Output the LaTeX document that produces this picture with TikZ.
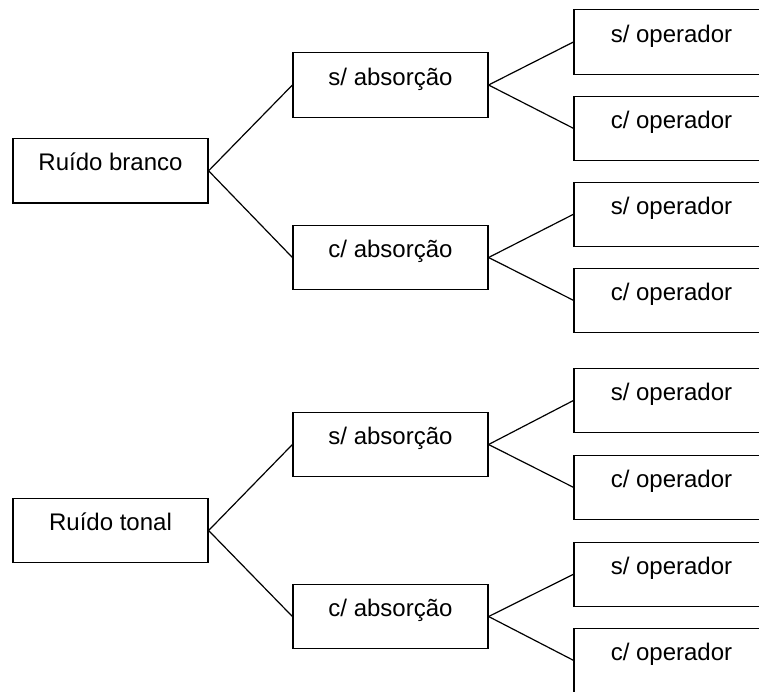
\documentclass[tikz,border=0pt]{standalone}
\usepackage{fontspec}
\setmainfont{Liberation Sans}
\usetikzlibrary{positioning}

\begin{document}
\begin{tikzpicture}[x=0.5pt, y=-0.5pt, line width=0.6pt,
		box/.style={draw, rectangle, inner sep=0pt, minimum width=97.5pt, text height=16.1pt, text depth=16.1pt, font=\fontsize{12}{14}\selectfont}]
			\useasboundingbox (0, 0) rectangle (759, 691);
			\clip (0, 0) rectangle (759, 691);
			
			% ruido branco
			\node [box] (Bnoise) at (110.5, 170.8) {Ruído branco};
			\node [box] (BSabs) at (390.5, 85) {s/ absorção};
			\node [box] (BCabs) at (390.5, 257.5) {c/ absorção};
			\node [box] (BSabsSop) at (671.5, 42) {s/ operador};
			\node [box] (BSabsCop) at (671.5, 128.3) {c/ operador};
			\node [box] (BCabsSop) at (671.5, 214.3) {s/ operador};
			\node [box] (BCabsCop) at (671.5, 300.3) {c/ operador};
			
			\draw[-] (Bnoise.east) -- (BSabs.west);
			\draw[-] (Bnoise.east) -- (BCabs.west);
			\draw[-] (BSabs.east) -- (BSabsSop.west);
			\draw[-] (BSabs.east) -- (BSabsCop.west);
			\draw[-] (BCabs.east) -- (BCabsSop.west);
			\draw[-] (BCabs.east) -- (BCabsCop.west);
			
			% ruido tonal
			\node [box] (Tnoise) at (110.5, 530.5) {Ruído tonal};
			\node [box] (TSabs) at (390.5, 444.5) {s/ absorção};
			\node [box] (TCabs) at (390.5, 616.5) {c/ absorção};
			\node [box] (TSabsSop) at (671.5, 400.5) {s/ operador};
			\node [box] (TSabsCop) at (671.5, 487.3) {c/ operador};
			\node [box] (TCabsSop) at (671.5, 574.3) {s/ operador};
			\node [box] (TCabsCop) at (671.5, 660.3) {c/ operador};
			
			\draw[-] (Tnoise.east) -- (TSabs.west);
			\draw[-] (Tnoise.east) -- (TCabs.west);
			\draw[-] (TSabs.east) -- (TSabsSop.west);
			\draw[-] (TSabs.east) -- (TSabsCop.west);
			\draw[-] (TCabs.east) -- (TCabsSop.west);
			\draw[-] (TCabs.east) -- (TCabsCop.west);
		\end{tikzpicture}
\end{document}
